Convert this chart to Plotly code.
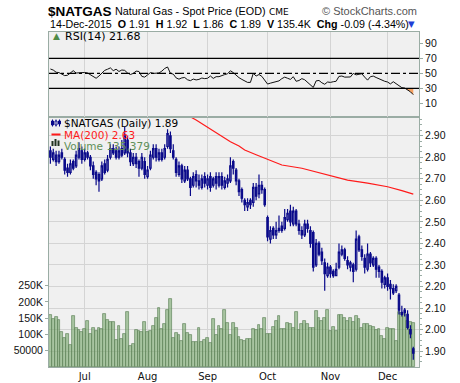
import plotly.graph_objects as go
import pandas as pd

W, H = 460, 383

# ---------------- data ----------------
HOLIDAYS = ["2015-07-03", "2015-09-07", "2015-11-26"]
dates = [d for d in pd.bdate_range("2015-06-15", "2015-12-14")
         if d.strftime("%Y-%m-%d") not in HOLIDAYS]
month_names = ["Jul", "Aug", "Sep", "Oct", "Nov", "Dec"]

open_ = [2.83, 2.79, 2.81, 2.78, 2.82, 2.79, 2.75, 2.73, 2.78, 2.76,
         2.80, 2.83, 2.79, 2.82, 2.80, 2.76, 2.73, 2.72, 2.70, 2.77,
         2.74, 2.80, 2.84, 2.83, 2.80, 2.84, 2.82, 2.88, 2.82, 2.77,
         2.80, 2.78, 2.75, 2.78, 2.71, 2.75, 2.80, 2.84, 2.79, 2.82,
         2.80, 2.85, 2.90, 2.83, 2.79, 2.72, 2.76, 2.69, 2.74, 2.70,
         2.67, 2.72, 2.69, 2.66, 2.71, 2.67, 2.71, 2.67, 2.71, 2.67,
         2.71, 2.66, 2.68, 2.69, 2.78, 2.74, 2.69, 2.65, 2.60, 2.57,
         2.60, 2.59, 2.66, 2.63, 2.67, 2.65, 2.52, 2.42, 2.47, 2.44,
         2.46, 2.48, 2.47, 2.51, 2.55, 2.49, 2.55, 2.49, 2.46, 2.44,
         2.49, 2.46, 2.45, 2.30, 2.40, 2.36, 2.31, 2.25, 2.29, 2.27,
         2.25, 2.29, 2.35, 2.37, 2.32, 2.29, 2.30, 2.28, 2.43, 2.37,
         2.33, 2.28, 2.35, 2.30, 2.33, 2.29, 2.27, 2.21, 2.24, 2.21,
         2.19, 2.18, 2.16, 2.07, 2.09, 2.07, 2.00, 1.91]
high = [2.85, 2.84, 2.83, 2.83, 2.84, 2.80, 2.77, 2.79, 2.79, 2.83,
        2.87, 2.85, 2.84, 2.83, 2.81, 2.78, 2.74, 2.73, 2.78, 2.79,
        2.81, 2.86, 2.86, 2.85, 2.85, 2.88, 2.94, 2.90, 2.84, 2.82,
        2.82, 2.79, 2.82, 2.80, 2.76, 2.83, 2.86, 2.86, 2.84, 2.84,
        2.86, 2.93, 2.92, 2.86, 2.80, 2.78, 2.77, 2.76, 2.76, 2.71,
        2.73, 2.74, 2.72, 2.72, 2.73, 2.72, 2.73, 2.71, 2.73, 2.73,
        2.73, 2.71, 2.72, 2.80, 2.79, 2.75, 2.70, 2.66, 2.61, 2.61,
        2.61, 2.68, 2.68, 2.72, 2.69, 2.66, 2.53, 2.48, 2.48, 2.50,
        2.53, 2.50, 2.56, 2.56, 2.58, 2.57, 2.56, 2.51, 2.48, 2.51,
        2.51, 2.48, 2.46, 2.42, 2.41, 2.38, 2.33, 2.31, 2.30, 2.28,
        2.31, 2.40, 2.39, 2.38, 2.34, 2.32, 2.31, 2.46, 2.44, 2.39,
        2.35, 2.40, 2.36, 2.34, 2.34, 2.30, 2.28, 2.25, 2.26, 2.23,
        2.21, 2.21, 2.17, 2.11, 2.10, 2.09, 2.02, 1.92]
low = [2.77, 2.78, 2.76, 2.77, 2.79, 2.72, 2.71, 2.72, 2.74, 2.75,
       2.79, 2.77, 2.78, 2.79, 2.74, 2.70, 2.67, 2.64, 2.69, 2.72,
       2.73, 2.79, 2.81, 2.79, 2.79, 2.80, 2.81, 2.80, 2.76, 2.76,
       2.75, 2.71, 2.74, 2.70, 2.70, 2.74, 2.79, 2.78, 2.78, 2.78,
       2.79, 2.84, 2.82, 2.79, 2.71, 2.71, 2.68, 2.68, 2.69, 2.62,
       2.66, 2.66, 2.65, 2.65, 2.66, 2.65, 2.64, 2.66, 2.65, 2.66,
       2.65, 2.65, 2.66, 2.68, 2.72, 2.67, 2.62, 2.59, 2.55, 2.55,
       2.56, 2.57, 2.60, 2.61, 2.63, 2.57, 2.41, 2.40, 2.42, 2.42,
       2.45, 2.45, 2.46, 2.50, 2.48, 2.48, 2.48, 2.44, 2.42, 2.43,
       2.45, 2.38, 2.27, 2.29, 2.34, 2.30, 2.18, 2.24, 2.24, 2.24,
       2.25, 2.28, 2.34, 2.32, 2.28, 2.27, 2.22, 2.27, 2.36, 2.32,
       2.26, 2.27, 2.29, 2.29, 2.24, 2.24, 2.19, 2.19, 2.18, 2.14,
       2.16, 2.17, 2.07, 2.06, 2.06, 2.00, 1.96, 1.86]
close = [2.80, 2.82, 2.78, 2.81, 2.80, 2.74, 2.73, 2.77, 2.75, 2.81,
         2.84, 2.79, 2.82, 2.80, 2.76, 2.72, 2.70, 2.69, 2.76, 2.73,
         2.79, 2.84, 2.82, 2.80, 2.83, 2.81, 2.90, 2.82, 2.78, 2.80,
         2.77, 2.75, 2.80, 2.72, 2.74, 2.81, 2.84, 2.80, 2.82, 2.79,
         2.84, 2.91, 2.84, 2.80, 2.73, 2.76, 2.70, 2.74, 2.70, 2.66,
         2.71, 2.69, 2.67, 2.70, 2.68, 2.70, 2.66, 2.70, 2.68, 2.71,
         2.67, 2.69, 2.70, 2.76, 2.75, 2.69, 2.64, 2.61, 2.58, 2.59,
         2.58, 2.66, 2.62, 2.67, 2.65, 2.58, 2.43, 2.46, 2.44, 2.46,
         2.47, 2.46, 2.52, 2.54, 2.50, 2.55, 2.49, 2.46, 2.44, 2.49,
         2.47, 2.40, 2.29, 2.40, 2.35, 2.32, 2.26, 2.29, 2.26, 2.25,
         2.28, 2.36, 2.37, 2.33, 2.30, 2.31, 2.27, 2.42, 2.37, 2.34,
         2.29, 2.35, 2.31, 2.33, 2.28, 2.27, 2.22, 2.24, 2.20, 2.19,
         2.17, 2.20, 2.09, 2.08, 2.08, 2.01, 1.98, 1.89]
volume = [160000, 148000, 154000, 145000, 108000, 90000, 102000, 68000, 157000, 120000,
          114000, 108000, 117000, 141000, 101000, 120000, 110000, 120000, 117000, 164000,
          145000, 139000, 139000, 84000, 127000, 86000, 102000, 170000, 65000, 72000,
          114000, 112000, 108000, 139000, 109000, 112000, 127000, 151000, 182000, 117000,
          131000, 175000, 208000, 90000, 105000, 99000, 79000, 133000, 106000, 99000,
          78000, 78000, 121000, 78000, 82000, 90000, 75000, 148000, 98000, 127000,
          117000, 176000, 135000, 99000, 135000, 120000, 91000, 84000, 81000, 86000,
          87000, 117000, 113000, 130000, 117000, 152000, 103000, 101000, 123000, 142000,
          157000, 118000, 117000, 134000, 132000, 120000, 169000, 113000, 132000, 142000,
          132000, 120000, 120000, 172000, 150000, 142000, 150000, 176000, 111000, 124000,
          111000, 160000, 160000, 151000, 142000, 151000, 137000, 157000, 147000, 120000,
          132000, 132000, 127000, 123000, 115000, 117000, 96000, 86000, 121000, 117000,
          117000, 81000, 168000, 166000, 164000, 142000, 137000, 135379]
rsi = [55.8, 54.4, 51.5, 51.0, 49.0, 47.0, 47.5, 50.0, 53.6, 50.5,
       51.0, 51.0, 51.2, 50.5, 48.5, 45.6, 43.5, 46.5, 51.0, 54.0,
       55.5, 57.3, 53.6, 55.5, 52.5, 54.5, 54.0, 50.5, 48.5, 50.0,
       53.0, 52.5, 46.0, 45.0, 48.0, 51.0, 50.0, 50.0, 50.5, 53.0,
       56.5, 58.5, 50.0, 49.0, 44.0, 42.3, 44.0, 44.5, 41.5, 40.3,
       42.4, 41.3, 42.0, 43.8, 43.0, 43.5, 46.5, 43.3, 45.6, 45.6,
       47.5, 48.4, 49.5, 53.5, 51.0, 47.5, 44.3, 42.0, 39.5, 38.0,
       38.0, 50.0, 46.5, 48.5, 46.0, 40.0, 35.8, 37.0, 38.0, 38.0,
       40.0, 43.0, 45.0, 43.5, 42.0, 45.6, 39.5, 40.5, 43.0, 41.5,
       38.0, 35.0, 31.3, 40.0, 40.6, 37.5, 35.5, 38.5, 38.0, 38.9,
       39.5, 46.0, 46.5, 45.0, 44.6, 45.2, 50.0, 48.0, 48.8, 49.5,
       45.0, 41.0, 45.6, 46.4, 44.5, 42.8, 40.7, 39.5, 38.5, 36.0,
       38.9, 36.2, 32.5, 31.0, 30.5, 28.0, 25.5, 21.68]
# 200-day moving average, read at a few days (index into dates); above the panel before ~day 47
ma_day = [44, 48, 51, 55, 60, 63, 66, 68, 72, 75, 81, 88, 96, 104, 111, 118, 123, 127]
ma_val = [3.03, 2.995, 2.973, 2.94, 2.90, 2.872, 2.852, 2.834, 2.812, 2.795,
          2.764, 2.749, 2.722, 2.694, 2.68, 2.663, 2.645, 2.629]

# ---------------- helpers ----------------
idx = list(range(len(dates)))
month_idx = [i for i in idx if i > 0 and dates[i].month != dates[i - 1].month]

def px(x):
    return x / W

def py(y):
    return 1 - y / H

X_DOM = [px(49), px(419)]
RSI_DOM = [py(117), py(32)]
MAIN_DOM = [py(367), py(117)]
BORDER = "#9aaca4"
GRID = "#d4d4d4"
NAVY = "#0a0a8a"
TICKFONT = dict(family="Liberation Sans, Arial", size=10.5, color="#111")

fig = go.Figure()

# volume (base axis of main panel)
fig.add_trace(go.Bar(
    x=idx, y=volume, xaxis="x", yaxis="y", width=1.0,
    marker=dict(color="rgba(118,166,106,0.6)",
                line=dict(color="rgba(96,132,90,0.85)", width=0.8)),
    hoverinfo="skip"))

# price candles (overlay axis)
fig.add_trace(go.Candlestick(
    x=idx, open=open_, high=high, low=low, close=close,
    xaxis="x", yaxis="y2",
    increasing=dict(line=dict(color=NAVY, width=1.2), fillcolor="rgba(240,240,240,1)"),
    decreasing=dict(line=dict(color=NAVY, width=1.2), fillcolor=NAVY),
    whiskerwidth=0, hovertext=[d.strftime("%d-%b-%Y") for d in dates]))

fig.add_trace(go.Scatter(
    x=ma_day, y=ma_val, mode="lines", xaxis="x", yaxis="y2",
    line=dict(color="#ff1a1a", width=1.2)))

# RSI oversold fill
os_idx = [i for i in idx if rsi[i] < 30 or (i + 1 < len(rsi) and rsi[i + 1] < 30)]
fig.add_trace(go.Scatter(x=os_idx, y=[30] * len(os_idx), mode="lines",
                         line=dict(width=0), xaxis="x2", yaxis="y3", hoverinfo="skip"))
fig.add_trace(go.Scatter(x=os_idx, y=[min(rsi[i], 30) for i in os_idx], mode="lines",
                         line=dict(width=0), fill="tonexty", fillcolor="#f5a263",
                         xaxis="x2", yaxis="y3", hoverinfo="skip"))
fig.add_trace(go.Scatter(x=idx, y=rsi, mode="lines", xaxis="x2", yaxis="y3",
                         line=dict(color="#111", width=1)))

shapes = []
for lvl, dash in [(70, "solid"), (30, "solid"), (50, "dashdot")]:
    shapes.append(dict(type="line", xref="x2 domain", x0=0, x1=1, yref="y3", y0=lvl, y1=lvl,
                       line=dict(color="#000", width=1.2, dash=dash)))

# legend icons (decorations)
shapes += [
    dict(type="line", xref="paper", yref="paper", x0=px(52.5), x1=px(52.5), y0=py(119.5), y1=py(126.5), line=dict(color=NAVY, width=1)),
    dict(type="rect", xref="paper", yref="paper", x0=px(51.5), x1=px(53.5), y0=py(121), y1=py(125), line=dict(color=NAVY, width=1), fillcolor=NAVY),
    dict(type="line", xref="paper", yref="paper", x0=px(56), x1=px(56), y0=py(119.5), y1=py(126.5), line=dict(color=NAVY, width=1)),
    dict(type="rect", xref="paper", yref="paper", x0=px(55), x1=px(57), y0=py(121), y1=py(125), line=dict(color=NAVY, width=1), fillcolor="white"),
    dict(type="line", xref="paper", yref="paper", x0=px(59.5), x1=px(59.5), y0=py(119.5), y1=py(126.5), line=dict(color=NAVY, width=1)),
    dict(type="rect", xref="paper", yref="paper", x0=px(58.5), x1=px(60.5), y0=py(121), y1=py(124), line=dict(color=NAVY, width=1), fillcolor=NAVY),
    dict(type="line", xref="paper", yref="paper", x0=px(51.5), x1=px(60.5), y0=py(134.5), y1=py(134.5), line=dict(color="#ff1a1a", width=2)),
    dict(type="rect", xref="paper", yref="paper", x0=px(51.5), x1=px(53.5), y0=py(146), y1=py(141), line=dict(width=0), fillcolor="#223322"),
    dict(type="rect", xref="paper", yref="paper", x0=px(54.5), x1=px(56.5), y0=py(146), y1=py(139), line=dict(width=0), fillcolor="#223322"),
    dict(type="rect", xref="paper", yref="paper", x0=px(57.5), x1=px(59.5), y0=py(146), y1=py(140.5), line=dict(width=0), fillcolor="#223322"),
]

LEG = dict(family="DejaVu Sans, Verdana", size=10.5)
NB = "\u00a0"
last = len(close) - 1
hdr2 = (f"{dates[last].strftime('%d-%b-%Y')}{NB}{NB}<b>O</b> {open_[last]:.2f}{NB}{NB}<b>H</b> {high[last]:.2f}"
        f"{NB}{NB}<b>L</b> {low[last]:.2f}{NB}{NB}<b>C</b> {close[last]:.2f}{NB}{NB}<b>V</b> {volume[last]/1000:.1f}K"
        f"{NB}{NB}<b>Chg</b> -0.09 (-4.34%)")

annotations = [
    dict(x=px(46), y=py(11.5), text="<b>$NATGAS</b>", font=dict(family="Liberation Sans, Arial", size=13.5, color="#000")),
    dict(x=px(113), y=py(11.5), text="Natural Gas - Spot Price (EOD)", font=dict(family="Liberation Sans, Arial", size=10.8, color="#000")),
    dict(x=px(267), y=py(12), text="CME", font=dict(family="DejaVu Sans", size=9, color="#000")),
    dict(x=px(419), y=py(11.5), text="© StockCharts.com", xanchor="right", font=dict(family="Liberation Sans, Arial", size=11, color="#555")),
    dict(x=px(48), y=py(24), text=hdr2, font=dict(family="Liberation Sans, Arial", size=10.7, color="#000")),
    dict(x=px(406), y=py(24), text="▼", font=dict(family="DejaVu Sans", size=8.5, color="#1f3fd6")),
    dict(x=px(51), y=py(36.5), text="▲", font=dict(family="DejaVu Sans", size=9, color="#4f8a46")),
    dict(x=px(63), y=py(36.5), text=f"RSI(14) {rsi[-1]:.2f}", font=dict(family="DejaVu Sans, Verdana", size=11, color="#000")),
    dict(x=px(62), y=py(123), text=f"$NATGAS (Daily) {close[-1]:.2f}", font=dict(LEG, color="#000")),
    dict(x=px(62), y=py(134.5), text=f"MA(200) {ma_val[-1]:.2f}", font=dict(LEG, color="#ff1a1a")),
    dict(x=px(62), y=py(145.5), text=f"Volume {volume[-1]:,}", font=dict(LEG, color="#5f8f58")),
]
for a in annotations:
    a.update(xref="paper", yref="paper", showarrow=False, yanchor="middle")
    a.setdefault("xanchor", "left")

xrange = [-0.49, len(idx) + 1.0]
axis_common = dict(showline=True, mirror=True, linecolor=BORDER, linewidth=1, zeroline=False)

fig.update_layout(
    width=W, height=H, margin=dict(l=0, r=0, t=0, b=0),
    paper_bgcolor="white", plot_bgcolor="#f0f0f0",
    showlegend=False, bargap=0,
    shapes=shapes, annotations=annotations,
    xaxis=dict(domain=X_DOM, anchor="y", range=xrange, rangeslider=dict(visible=False),
               tickmode="array", tickvals=month_idx, ticktext=month_names,
               showgrid=True, gridcolor=GRID, ticks="", tickfont=dict(family="DejaVu Sans, Verdana", size=10, color="#111"),
               **axis_common),
    xaxis2=dict(domain=X_DOM, anchor="y3", matches="x", range=xrange,
                tickmode="array", tickvals=month_idx, showticklabels=False,
                showgrid=True, gridcolor=GRID, ticks="", **axis_common),
    yaxis=dict(domain=MAIN_DOM, anchor="x", side="left", range=[0, 769000],
               tickmode="array", tickvals=[50000, 100000, 150000, 200000, 250000],
               ticktext=["50000", "100K", "150K", "200K", "250K"],
               showgrid=False, ticks="outside", ticklen=3, tickcolor=BORDER,
               tickfont=TICKFONT, **axis_common),
    yaxis2=dict(domain=MAIN_DOM, anchor="x", overlaying="y", side="right",
                range=[1.826, 2.987], dtick=0.1, tick0=1.9, tickformat=".2f",
                showgrid=True, gridcolor=GRID, ticks="outside", ticklen=3, tickcolor=BORDER,
                minor=dict(ticks="outside", ticklen=2, dtick=0.025, tickcolor=BORDER, showgrid=False),
                tickfont=TICKFONT, showline=True, linecolor=BORDER, zeroline=False),
    yaxis3=dict(domain=RSI_DOM, anchor="x2", side="right", range=[-8, 105],
                tickmode="array", tickvals=[10, 30, 50, 70, 90],
                showgrid=False, ticks="outside", ticklen=3, tickcolor=BORDER,
                tickfont=TICKFONT, **axis_common),
)

fig.write_html("out.html")
